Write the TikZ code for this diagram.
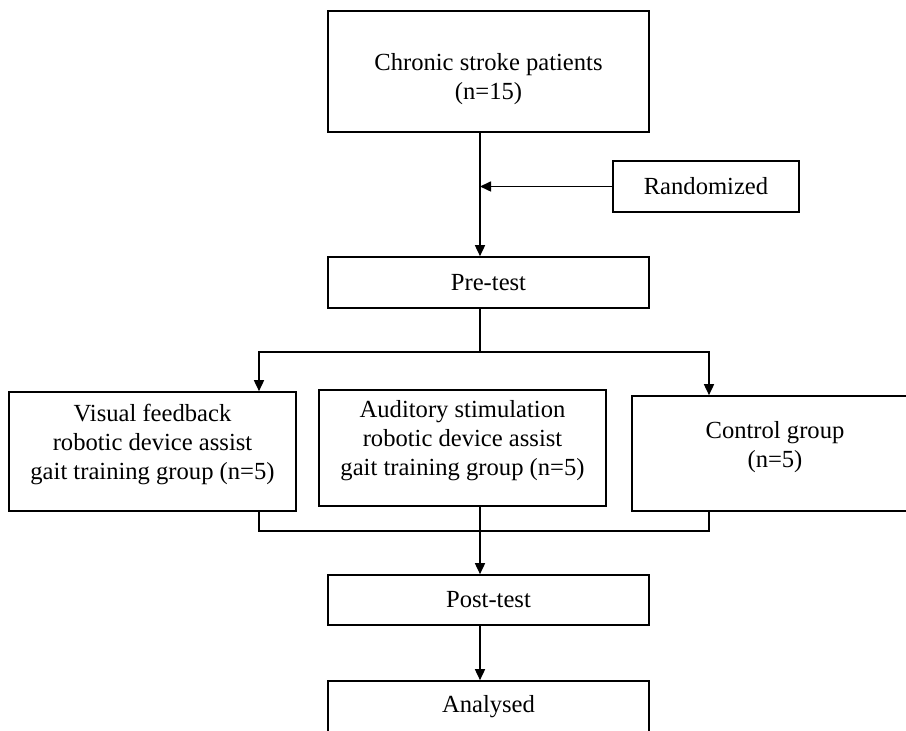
\documentclass[tikz,border=0pt]{standalone}
\usepackage{fontspec}
\setmainfont{Liberation Serif}
\usepackage{tikz}
\usetikzlibrary{arrows.meta}

\begin{document}
\begin{tikzpicture}[x=0.5pt,y=-0.5pt,
    box/.style={draw,thick,black,rectangle,align=center,inner sep=0pt,
      font=\fontsize{12.3}{14.5}\selectfont},
    link/.style={thick,black},
    arr/.style={thick,black,-{Triangle[length=5.5pt,width=5pt]}}]
	\useasboundingbox (0,0) rectangle (906,731);
	\clip (0,0) rectangle (906,731);

	\node[box,minimum width=160.5pt,minimum height=60.5pt] (patients) at (488.5,71.5) {\rule{0pt}{16.5pt}Chronic stroke patients\\(n=15)};
	\node[box,minimum width=93pt,minimum height=25.5pt] (random) at (706,186.5) {Randomized};
	\node[box,minimum width=160.5pt,minimum height=25.5pt] (pretest) at (488.5,282.5) {Pre-test};

	\node[box,minimum width=143.5pt,minimum height=59.5pt] (visual) at (152.5,451.5) {Visual feedback\\robotic device assist\\gait training group (n=5)\rule[-10pt]{0pt}{10pt}};
	\node[box,minimum width=143.5pt,minimum height=58pt] (auditory) at (462.5,448) {Auditory stimulation\\robotic device assist\\gait training group (n=5)\rule[-10pt]{0pt}{10pt}};
	\node[box,minimum width=143pt,minimum height=57.5pt] (control) at (775,453.5) {Control group\\(n=5)\rule[-9pt]{0pt}{9pt}};

	\node[box,minimum width=160.5pt,minimum height=25pt] (posttest) at (488.5,600) {Post-test};
	\node[box,minimum width=160.5pt,minimum height=26pt] (analysed) at (488.5,707) {Analysed};

	\coordinate (spine) at (480,0);
	\coordinate (split) at (480,352);
	\coordinate (join) at (480,531);
	\coordinate (lb) at (259,0);
	\coordinate (rb) at (709,0);

	\draw[arr] (patients.south -| spine) -- (pretest.north -| spine);
	\draw[arr] (random.west) -- (random.west -| spine);

	\draw[link] (pretest.south -| spine) -- (split);
	\draw[arr] (split) -| (visual.north -| lb);
	\draw[arr] (split) -| (control.north -| rb);

	\draw[link] (visual.south -| lb) -- (lb |- join) -- (rb |- join) -- (control.south -| rb);
	\draw[link] (auditory.south -| spine) -- (join);
	\draw[arr] (join) -- (posttest.north -| spine);
	\draw[arr] (posttest.south -| spine) -- (analysed.north -| spine);
\end{tikzpicture}
\end{document}
